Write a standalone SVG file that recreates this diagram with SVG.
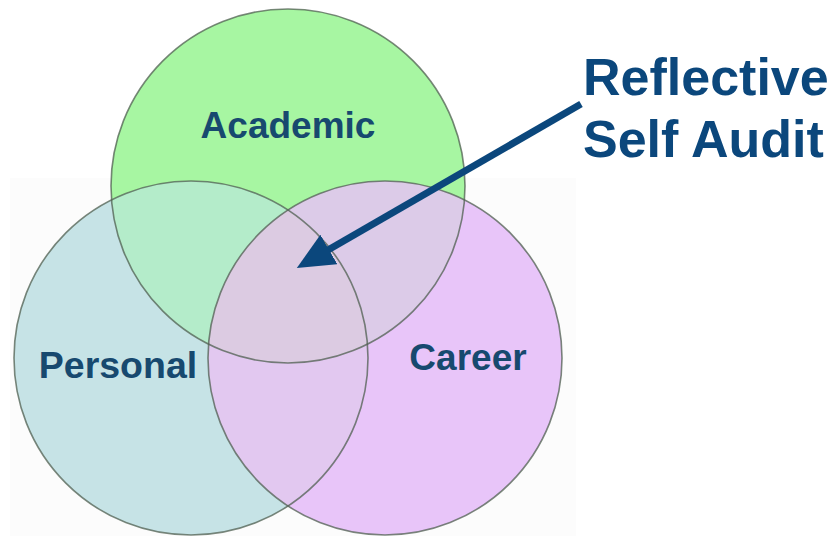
<svg xmlns="http://www.w3.org/2000/svg" width="839" height="536" viewBox="0 0 839 536">
<defs>
<style>
.lbl{font-family:"Liberation Sans",Arial,sans-serif;font-weight:bold;fill:#17496f;text-anchor:middle}
.big{font-family:"Liberation Sans",Arial,sans-serif;font-weight:bold;fill:#0b477c}
.ring{fill:none;stroke:#4f5f50;stroke-opacity:0.75;stroke-width:1.6}
</style>
<clipPath id="clipA"><circle cx="288" cy="186" r="177"/></clipPath>
<clipPath id="clipP"><circle cx="191" cy="358" r="177"/></clipPath>
<marker id="head" markerUnits="userSpaceOnUse" markerWidth="40" markerHeight="40" refX="1" refY="17" orient="auto">
<path d="M0,0 L37,17 L0,34 Z" fill="#0b477c"/>
</marker>
</defs>
<rect width="839" height="536" fill="#ffffff"/>
<rect x="10" y="178" width="566" height="358" fill="#fcfcfc"/>
<g id="academic">
<circle cx="288" cy="186" r="177" fill="#a7f6a2"/>
</g>
<g id="personal">
<circle cx="191" cy="358" r="177" fill="#c6e3e6"/>
</g>
<g id="career">
<circle cx="385" cy="358" r="177" fill="#e8c5f9"/>
</g>
<g id="overlaps">
<g clip-path="url(#clipA)"><circle cx="191" cy="358" r="177" fill="#b4ecca"/></g>
<g clip-path="url(#clipA)"><circle cx="385" cy="358" r="177" fill="#dccbe8"/></g>
<g clip-path="url(#clipP)"><circle cx="385" cy="358" r="177" fill="#e2c8f0"/></g>
<g clip-path="url(#clipA)"><g clip-path="url(#clipP)"><circle cx="385" cy="358" r="177" fill="#dccbe2"/></g></g>
</g>
<g id="outlines">
<circle class="ring" cx="288" cy="186" r="177"/>
<circle class="ring" cx="191" cy="358" r="177"/>
<circle class="ring" cx="385" cy="358" r="177"/>
</g>
<text class="lbl" x="288" y="138" font-size="37">Academic</text>
<text class="lbl" x="118" y="378" font-size="37.5">Personal</text>
<text class="lbl" x="468" y="370" font-size="37">Career</text>
<g id="connectors">
<line x1="581" y1="104" x2="328" y2="250" stroke="#0b477c" stroke-width="7" marker-end="url(#head)"/>
</g>
<g id="label-audit">
<text class="big" x="583" y="95" font-size="52">Reflective</text>
<text class="big" x="583" y="157" font-size="52">Self Audit</text>
</g>
</svg>
